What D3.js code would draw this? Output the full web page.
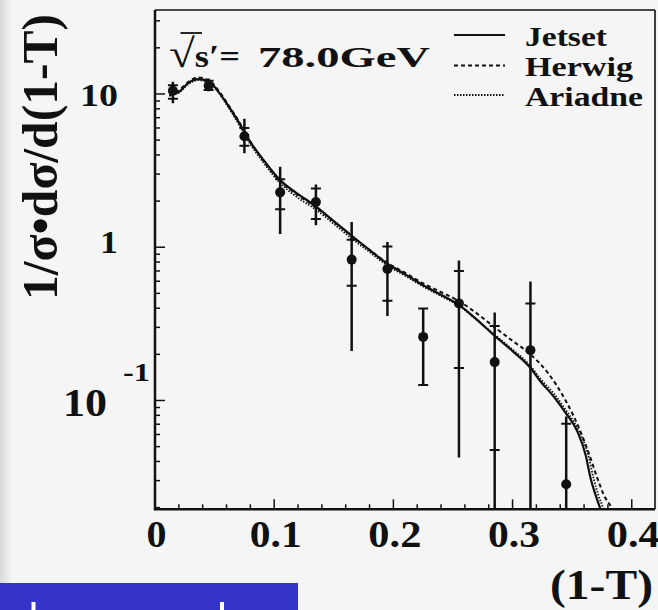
<!DOCTYPE html>
<html><head><meta charset="utf-8">
<script src="https://cdn.jsdelivr.net/npm/d3@7"></script>
<style>html,body{margin:0;padding:0;background:#f5f5f5;}svg{display:block;}</style>
</head><body>
<svg id="chart" width="658" height="610"></svg>
<script>
// ---- data ----
const binX   = [0.015, 0.045, 0.075, 0.105, 0.135, 0.165, 0.195, 0.225, 0.255, 0.285, 0.315, 0.345];
const value  = [10.5, 11.3, 5.3, 2.28, 1.97, 0.83, 0.72, 0.26, 0.43, 0.178, 0.213, 0.0284];
const statHi = [11.4, 12.2, 6.0, 2.78, 2.42, 1.12, 1.01, 0.398, 0.70, 0.306, 0.429, 0.0705];
const statLo = [9.3, 10.6, 4.6, 1.77, 1.53, 0.56, 0.447, 0.126, 0.163, 0.0475, 0.005, 0.005];
const totHi  = [12.0, 12.6, 6.9, 3.35, 2.57, 1.46, 1.08, 0.398, 0.818, 0.375, 0.598, 0.0787];
const totLo  = [8.7, 10.4, 4.1, 1.22, 1.39, 0.21, 0.356, 0.126, 0.0424, 0.005, 0.005, 0.005];

const jetsetX = [0.012,0.02,0.028,0.036,0.045,0.053,0.061,0.07,0.08,0.09,0.105,0.12,0.135,0.15,0.165,0.18,0.195,0.21,0.225,0.24,0.255,0.27,0.285,0.30,0.315,0.3235,0.335,0.3445,0.3544,0.3613,0.3655,0.3697,0.374,0.377];
const jetsetY = [9.9,10.3,11.8,12.5,12.1,10.4,8.5,6.6,4.85,3.8,2.74,2.22,1.85,1.48,1.19,0.96,0.78,0.665,0.565,0.49,0.42,0.337,0.264,0.21,0.163,0.133,0.105,0.083,0.0627,0.0441,0.031,0.0241,0.0192,0.016];
const herwigX = [0.012,0.02,0.028,0.036,0.045,0.053,0.061,0.07,0.08,0.09,0.105,0.12,0.135,0.15,0.165,0.18,0.195,0.21,0.225,0.24,0.255,0.27,0.285,0.30,0.315,0.33,0.3445,0.357,0.3655,0.3712,0.3767,0.3838,0.387];
const herwigY = [9.8,10.5,12.0,12.8,12.3,10.6,8.6,6.7,4.9,3.75,2.7,2.18,1.82,1.47,1.18,0.96,0.79,0.68,0.58,0.51,0.445,0.37,0.30,0.245,0.2,0.15,0.1,0.0627,0.0419,0.031,0.0241,0.0192,0.016];
const ariadneX = [0.012,0.02,0.028,0.036,0.045,0.053,0.061,0.07,0.08,0.09,0.105,0.12,0.135,0.15,0.165,0.18,0.195,0.21,0.225,0.24,0.255,0.27,0.285,0.30,0.315,0.3235,0.335,0.3445,0.355,0.3635,0.368,0.372,0.3765,0.379];
const ariadneY = [9.7,10.2,11.6,12.3,12.0,10.3,8.3,6.4,4.7,3.65,2.62,2.1,1.76,1.42,1.14,0.93,0.76,0.65,0.555,0.48,0.415,0.335,0.268,0.215,0.168,0.138,0.11,0.087,0.0645,0.0441,0.031,0.0241,0.0192,0.016];

const xTickValues = [0, 0.1, 0.2, 0.3, 0.4];
const xTickLabels = ["0", "0.1", "0.2", "0.3", "0.4"];
const xMinorTicks = d3.range(0.02, 0.4195, 0.02);
const legendNames = ["Jetset", "Herwig", "Ariadne"];

// ---- scales ----
const svg = d3.select("#chart");
const x = d3.scaleLinear().domain([0, 0.4195]).range([155, 655]);
const y = d3.scaleLog().domain([0.0195, 35.3]).range([509.3, 10]);

// background
const defs = svg.append("defs");
const g1 = defs.append("linearGradient").attr("id","lg").attr("x1","0").attr("x2","1").attr("y1","0").attr("y2","0");
g1.append("stop").attr("offset","0").attr("stop-color","#d9d9d9");
g1.append("stop").attr("offset","1").attr("stop-color","#f5f5f5");
svg.append("rect").attr("width",658).attr("height",610).attr("fill","#f5f5f5");
svg.append("rect").attr("x",0).attr("y",0).attr("width",12).attr("height",583).attr("fill","url(#lg)");
defs.append("clipPath").attr("id","clip").append("rect")
  .attr("x",x.range()[0]).attr("y",y.range()[1]).attr("width",x.range()[1]-x.range()[0]).attr("height",y.range()[0]-y.range()[1]);

// frame
const X0 = x.range()[0], X1 = x.range()[1], Y0 = y.range()[0], Y1 = y.range()[1];
svg.append("line").attr("x1",X0).attr("x2",X1).attr("y1",Y1).attr("y2",Y1).attr("stroke","#111").attr("stroke-width",1.6);
svg.append("line").attr("x1",X1).attr("x2",X1).attr("y1",Y1).attr("y2",Y0).attr("stroke","#111").attr("stroke-width",1.6);
svg.append("line").attr("x1",X0).attr("x2",X0).attr("y1",Y1).attr("y2",Y0+1).attr("stroke","#111").attr("stroke-width",2.5);
svg.append("line").attr("x1",X0-1).attr("x2",X1).attr("y1",Y0).attr("y2",Y0).attr("stroke","#111").attr("stroke-width",2.5);

// y ticks
const isMajor = v => Math.abs(Math.log10(v) - Math.round(Math.log10(v))) < 1e-6;
svg.append("g").selectAll("line").data(y.ticks()).join("line")
  .attr("x1",X0).attr("x2",d => X0 + (isMajor(d) ? 10 : 5))
  .attr("y1",d => y(d)).attr("y2",d => y(d))
  .attr("stroke","#111").attr("stroke-width",1.5);
// x ticks
svg.append("g").selectAll("line").data(xMinorTicks).join("line")
  .attr("x1",d => x(d)).attr("x2",d => x(d))
  .attr("y1",Y0).attr("y2",d => Y0 - (Math.abs(d*10 - Math.round(d*10)) < 1e-6 ? 10 : 5))
  .attr("stroke","#111").attr("stroke-width",1.5);

const font = "'Liberation Serif','Times New Roman',serif";
function txt(s, px, py, size, len, anchor) {
  return svg.append("text").attr("x",px).attr("y",py).text(s)
    .attr("font-family",font).attr("font-weight","bold").attr("font-size",size)
    .attr("fill","#111").attr("text-anchor",anchor||"start")
    .attr("textLength",len).attr("lengthAdjust","spacingAndGlyphs");
}

// y tick labels
txt("10", 118, y(10)+12.5, 32, 38, "end");
txt("1", 118, y(1)+6, 32, 18, "end");
txt("10", 107, y(0.1)+16, 40, 44, "end");
txt("-1", 150, y(0.1)-19.5, 25, 27, "end");

// x tick labels
const xLabW = [20, 52, 53, 52, 53];
svg.append("g").selectAll("text").data(xTickValues).join("text")
  .attr("x",d => x(d) + 1.5).attr("y",546.5).text((d,i) => xTickLabels[i])
  .attr("font-family",font).attr("font-weight","bold").attr("font-size",38)
  .attr("fill","#111").attr("text-anchor","middle")
  .attr("textLength",(d,i) => xLabW[i]).attr("lengthAdjust","spacingAndGlyphs");

// axis titles
txt("(1-T)", 653, 599, 42, 103, "end");
svg.append("text").attr("transform","translate(57,157) rotate(-90)").attr("text-anchor","middle")
  .text("1/σ•dσ/d(1-T)").attr("font-family",font).attr("font-weight","bold").attr("font-size",50)
  .attr("fill","#111").attr("textLength",286).attr("lengthAdjust","spacingAndGlyphs");

// curves
const plot = svg.append("g").attr("clip-path","url(#clip)");
const line = d3.line().x(d => x(d[0])).y(d => y(d[1])).curve(d3.curveMonotoneX);
const series = [
  {xs: ariadneX, ys: ariadneY, dash: "1.5,1.5", w: 1.8},
  {xs: herwigX, ys: herwigY, dash: "4,3", w: 2},
  {xs: jetsetX, ys: jetsetY, dash: null, w: 2.2}
];
series.forEach(s => {
  plot.append("path").datum(d3.zip(s.xs, s.ys)).attr("d", line)
    .attr("fill","none").attr("stroke","#111").attr("stroke-width",s.w)
    .attr("stroke-dasharray",s.dash);
});

// error bars and points
const clampY = v => Math.min(y(Math.max(v, 1e-6)), Y0);
binX.forEach((bx, i) => {
  const px = x(bx);
  plot.append("line").attr("x1",px).attr("x2",px).attr("y1",clampY(totHi[i])).attr("y2",clampY(totLo[i]))
    .attr("stroke","#111").attr("stroke-width",2.5);
  [statHi[i], statLo[i]].forEach(v => {
    if (y(v) < Y0) plot.append("line").attr("x1",px-5).attr("x2",px+5).attr("y1",y(v)).attr("y2",y(v))
      .attr("stroke","#111").attr("stroke-width",2);
  });
  plot.append("circle").attr("cx",px).attr("cy",y(value[i])).attr("r",5).attr("fill","#111");
});

// legend
const legY = [35, 65.5, 95];
const legDash = [null, "4,3", "1.5,1.5"];
legendNames.forEach((n, i) => {
  svg.append("line").attr("x1",454).attr("x2",505).attr("y1",legY[i]).attr("y2",legY[i])
    .attr("stroke","#111").attr("stroke-width",i===0?2:1.8).attr("stroke-dasharray",legDash[i]);
});
txt("Jetset", 525, 46, 28, 82);
txt("Herwig", 525, 76, 28, 108);
txt("Ariadne", 525, 106, 28, 118);

// energy label (single text, taller radical)
const eLab = svg.append("text").attr("x",169).attr("y",66.5)
  .attr("font-family",font).attr("font-weight","bold").attr("fill","#111")
  .attr("textLength",71).attr("lengthAdjust","spacingAndGlyphs");
eLab.append("tspan").attr("font-size",40).text("√");
eLab.append("tspan").attr("font-size",31).text("s′=");
svg.append("line").attr("x1",180.5).attr("x2",202).attr("y1",33).attr("y2",33).attr("stroke","#111").attr("stroke-width",1.8);
txt("78.0GeV", 258, 66.5, 30, 172);

// bottom banner fragment
svg.append("rect").attr("x",0).attr("y",583).attr("width",298).attr("height",27).attr("fill","#3434c8");
svg.append("rect").attr("x",31.5).attr("y",602).attr("width",4).attr("height",8).attr("fill","#ffffff");
svg.append("rect").attr("x",220).attr("y",602).attr("width",4).attr("height",8).attr("fill","#ffffff");
</script>
</body></html>
